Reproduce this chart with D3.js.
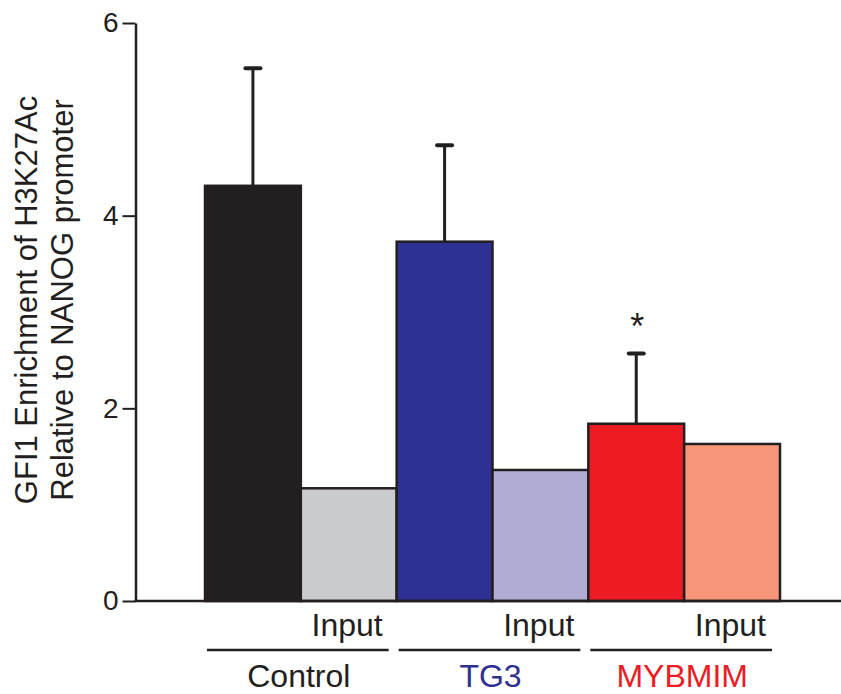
<!DOCTYPE html>
<html>
<head>
<meta charset="utf-8">
<script src="https://cdn.jsdelivr.net/npm/d3@7"></script>
<style>
  body { margin: 0; background: #fff; }
  svg { display: block; font-family: 'Liberation Sans', Arial, sans-serif; }
</style>
</head>
<body>
<div id="container"></div>
<script>
// values
const bars = ['Control', 'Control Input', 'TG3', 'TG3 Input', 'MYBMIM', 'MYBMIM Input'];
const values = [4.31, 1.17, 3.73, 1.36, 1.84, 1.63];
const errTops = [5.53, null, 4.73, null, 2.57, null];
const stars = ['', '', '', '', '*', ''];
const groups = ['Control', 'TG3', 'MYBMIM'];
const groupColors = ['#231f20', '#2e3192', '#ed1c24'];
const barColors = ['#231f20', '#c9cbcc', '#2e3192', '#b0acd4', '#ed1c24', '#f6957a'];
const yTicks = [0, 2, 4, 6];
const yTitle = ['GFI1 Enrichment of H3K27Ac', 'Relative to NANOG promoter'];

const width = 841, height = 694;
const ink = '#231f20';

let svg = d3.select('#container').append('svg')
  .attr('width', width)
  .attr('height', height);

let y = d3.scaleLinear().domain([0, 6]).range([601, 23]);
let x = d3.scaleBand().domain(bars).range([205, 780]).padding(0);

// bars
svg.append('g')
  .selectAll('rect')
  .data(bars)
  .enter()
  .append('rect')
  .attr('x', (d) => x(d))
  .attr('y', (d, i) => y(values[i]))
  .attr('width', x.bandwidth())
  .attr('height', (d, i) => y(0) - y(values[i]))
  .attr('fill', (d, i) => barColors[i])
  .attr('stroke', ink)
  .attr('stroke-width', 2.5);

// error bars (upper only)
let errs = svg.append('g')
  .selectAll('g')
  .data(bars.map((d, i) => ({ bar: d, v: values[i], top: errTops[i], star: stars[i] })).filter((d) => d.top != null))
  .enter()
  .append('g');

errs.append('line')
  .attr('x1', (d) => x(d.bar) + x.bandwidth() / 2)
  .attr('x2', (d) => x(d.bar) + x.bandwidth() / 2)
  .attr('y1', (d) => y(d.v))
  .attr('y2', (d) => y(d.top))
  .attr('stroke', ink)
  .attr('stroke-width', 3);

errs.append('line')
  .attr('x1', (d) => x(d.bar) + x.bandwidth() / 2 - 7.5)
  .attr('x2', (d) => x(d.bar) + x.bandwidth() / 2 + 7.5)
  .attr('y1', (d) => y(d.top))
  .attr('y2', (d) => y(d.top))
  .attr('stroke', ink)
  .attr('stroke-width', 4)
  .attr('stroke-linecap', 'round');

errs.append('text')
  .attr('x', (d) => x(d.bar) + x.bandwidth() / 2 + 1)
  .attr('y', (d) => y(d.top) - 14)
  .attr('text-anchor', 'middle')
  .attr('font-size', 36)
  .attr('fill', ink)
  .text((d) => d.star);

// y axis
let yAxis = svg.append('g')
  .attr('transform', 'translate(135.5,0)')
  .call(d3.axisLeft(y).tickValues(yTicks).tickSize(13).tickSizeOuter(0).tickPadding(4).tickFormat(d3.format('d')));
yAxis.select('.domain').attr('stroke', ink).attr('stroke-width', 2.5);
yAxis.selectAll('.tick line').attr('stroke', ink).attr('stroke-width', 2);
yAxis.selectAll('.tick text')
  .attr('font-size', 28)
  .attr('font-family', "'Liberation Sans', Arial, sans-serif")
  .attr('fill', ink);

// baseline
svg.append('line')
  .attr('x1', 134.5).attr('x2', width)
  .attr('y1', y(0)).attr('y2', y(0))
  .attr('stroke', ink)
  .attr('stroke-width', 2.5);

// y title
svg.append('g')
  .attr('transform', 'translate(37,300) rotate(-90)')
  .selectAll('text')
  .data(yTitle)
  .enter()
  .append('text')
  .attr('x', 0)
  .attr('y', (d, i) => i * 36)
  .attr('text-anchor', 'middle')
  .attr('font-size', 31)
  .attr('fill', ink)
  .text((d) => d);

// group labels
let grp = svg.append('g')
  .selectAll('g')
  .data(groups)
  .enter()
  .append('g');

grp.append('text')
  .attr('x', (d, i) => x(bars[i * 2 + 1]) + x.bandwidth() - 14)
  .attr('y', 636)
  .attr('text-anchor', 'end')
  .attr('font-size', 32)
  .attr('fill', ink)
  .text('Input');

grp.append('line')
  .attr('x1', (d, i) => x(bars[i * 2]) + 2)
  .attr('x2', (d, i) => x(bars[i * 2 + 1]) + x.bandwidth() - 8)
  .attr('y1', 650)
  .attr('y2', 650)
  .attr('stroke', ink)
  .attr('stroke-width', 2.5);

grp.append('text')
  .attr('x', (d, i) => (x(bars[i * 2]) + x(bars[i * 2 + 1]) + x.bandwidth()) / 2 - 2)
  .attr('y', 687)
  .attr('text-anchor', 'middle')
  .attr('font-size', 32)
  .attr('fill', (d, i) => groupColors[i])
  .text((d) => d);
</script>
</body>
</html>
